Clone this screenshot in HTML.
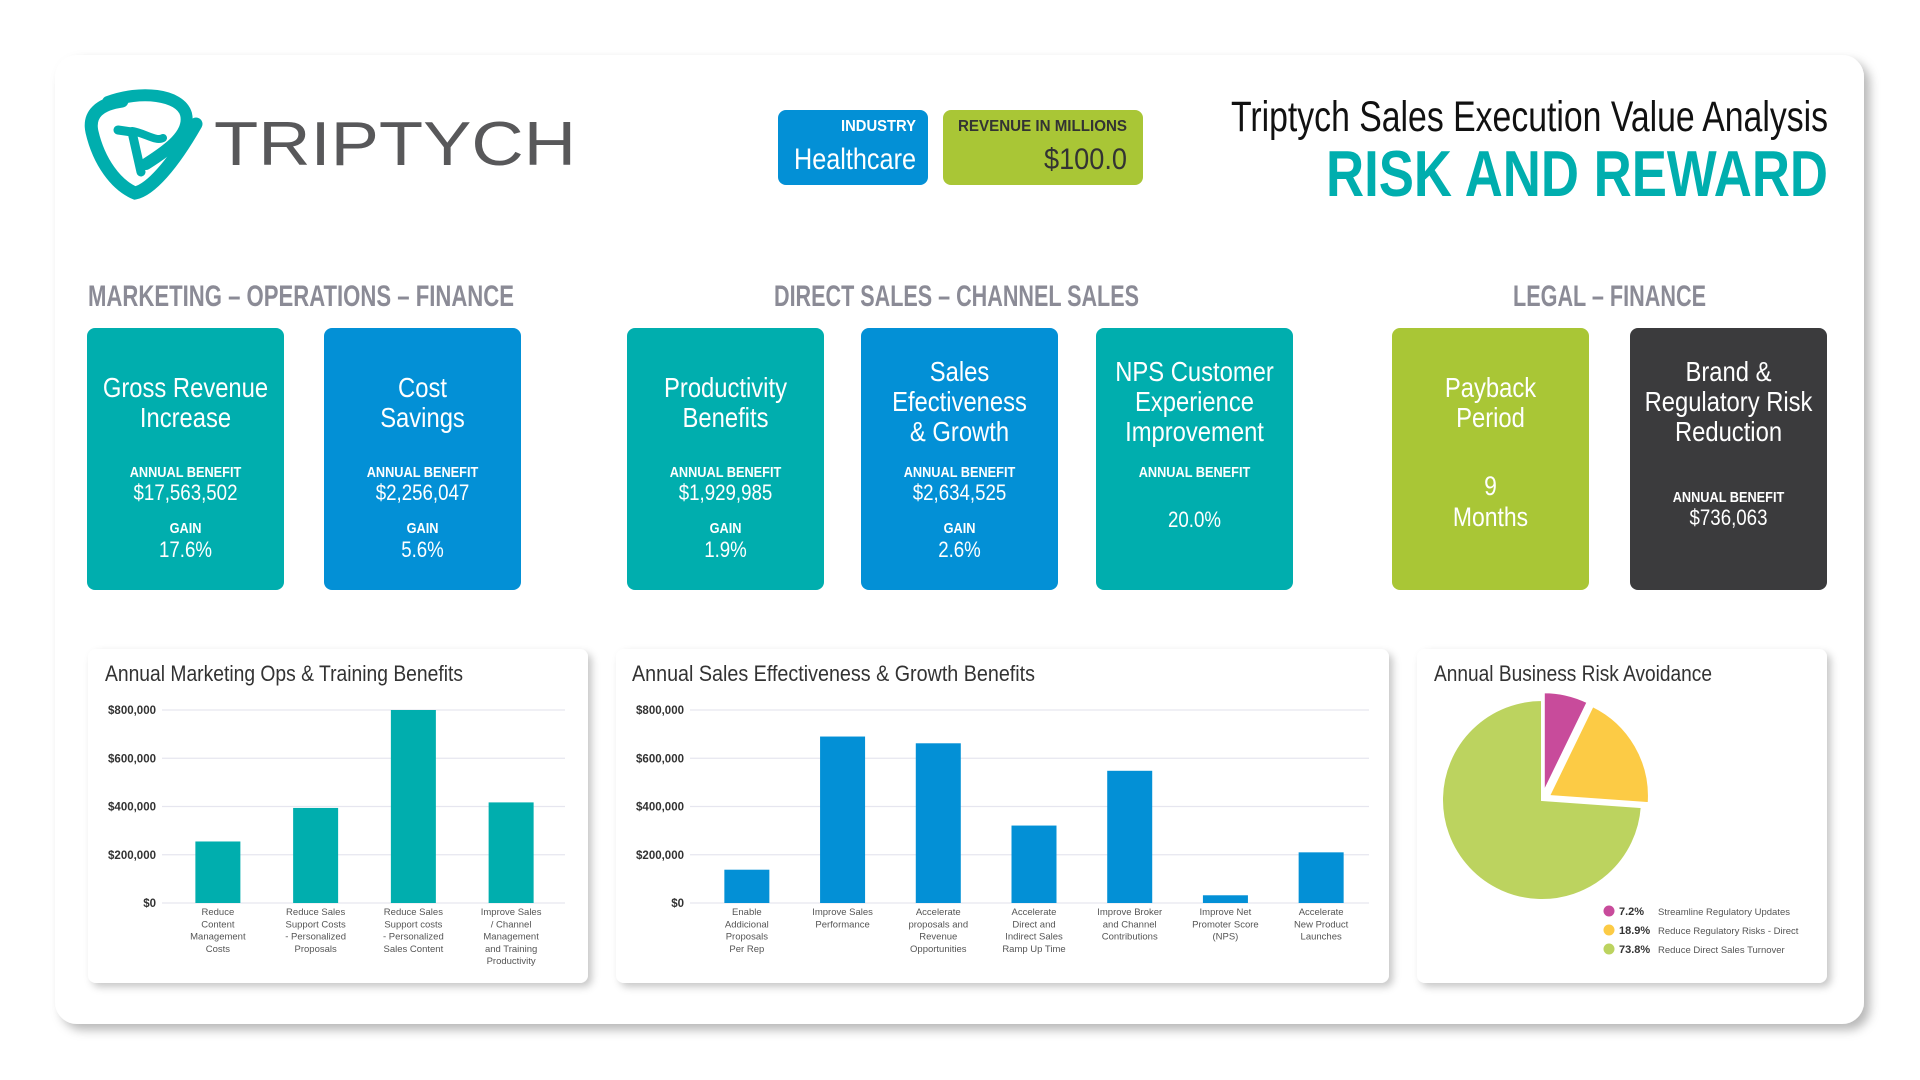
<!DOCTYPE html>
<html><head><meta charset="utf-8"><title>Triptych Risk and Reward</title>
<style>
html,body{margin:0;padding:0;background:#fff;}
body{width:1920px;height:1080px;overflow:hidden;font-family:"Liberation Sans",sans-serif;}
svg{display:block;}
</style></head>
<body>
<svg id="page" width="1920" height="1080" viewBox="0 0 1920 1080" xmlns="http://www.w3.org/2000/svg" font-family="Liberation Sans, sans-serif">
<defs>
<filter id="sh" x="-5%" y="-5%" width="112%" height="115%"><feDropShadow dx="6" dy="6" stdDeviation="5" flood-color="#000" flood-opacity="0.28"/></filter>
<filter id="sh2" x="-5%" y="-5%" width="112%" height="115%"><feDropShadow dx="4" dy="4" stdDeviation="4" flood-color="#000" flood-opacity="0.22"/></filter>
</defs>
<rect x="55" y="55" width="1809" height="969" rx="22" fill="#fff" filter="url(#sh)"/>

<g>
<g fill="none" stroke="#00aeae" stroke-linecap="round">
<path d="M122 101 C100 104 88 114 92 132 C99 162 116 185 135 193 C150 190 172 166 196 124" stroke-width="13"/>
<path d="M108 102 C140 90 180 94 186 114 C191 134 168 150 146 164" stroke-width="12"/>
<path d="M118 130 L132 132 L141 172" stroke-width="9"/>
<path d="M132 131 C145 133 156 142 163 138" stroke-width="8"/>
</g>
<text x="214" y="165" font-size="62" fill="#58585a" textLength="362" lengthAdjust="spacingAndGlyphs" style="font-weight:400">TRIPTYCH</text>
</g>

<g>
<rect x="778" y="110" width="150" height="75" rx="8" fill="#0390d6"/>
<text x="916" y="131" text-anchor="end" font-size="16" font-weight="bold" fill="#fff" textLength="75" lengthAdjust="spacingAndGlyphs">INDUSTRY</text>
<text x="916" y="169" text-anchor="end" font-size="30" fill="#fff" textLength="122" lengthAdjust="spacingAndGlyphs">Healthcare</text>
</g>
<g>
<rect x="943" y="110" width="200" height="75" rx="8" fill="#a9c636"/>
<text x="1127" y="131" text-anchor="end" font-size="16" font-weight="bold" fill="#333" textLength="169" lengthAdjust="spacingAndGlyphs">REVENUE IN MILLIONS</text>
<text x="1127" y="169" text-anchor="end" font-size="30" fill="#333" textLength="83" lengthAdjust="spacingAndGlyphs">$100.0</text>
</g>

<text x="1231" y="131" font-size="43" fill="#111" textLength="597" lengthAdjust="spacingAndGlyphs">Triptych Sales Execution Value Analysis</text>
<text x="1326" y="196" font-size="65" font-weight="bold" fill="#00aeae" textLength="502" lengthAdjust="spacingAndGlyphs">RISK AND REWARD</text>

<g font-size="30" font-weight="bold" fill="#8b8b96">
<text x="88" y="306" textLength="426" lengthAdjust="spacingAndGlyphs">MARKETING – OPERATIONS – FINANCE</text>
<text x="774" y="306" textLength="365" lengthAdjust="spacingAndGlyphs">DIRECT SALES – CHANNEL SALES</text>
<text x="1513" y="306" textLength="193" lengthAdjust="spacingAndGlyphs">LEGAL – FINANCE</text>
</g>

<g id="kpis"></g>

<rect x="88" y="649" width="500" height="334" rx="8" fill="#fff" filter="url(#sh2)"/>
<rect x="616" y="649" width="773" height="334" rx="8" fill="#fff" filter="url(#sh2)"/>
<rect x="1417" y="649" width="410" height="334" rx="8" fill="#fff" filter="url(#sh2)"/>

<text x="105" y="681" font-size="22" fill="#333" textLength="358" lengthAdjust="spacingAndGlyphs">Annual Marketing Ops &amp; Training Benefits</text>
<text x="632" y="681" font-size="22" fill="#333" textLength="403" lengthAdjust="spacingAndGlyphs">Annual Sales Effectiveness &amp; Growth Benefits</text>
<text x="1434" y="681" font-size="22" fill="#333" textLength="278" lengthAdjust="spacingAndGlyphs">Annual Business Risk Avoidance</text>

<g id="chart1"></g>
<g id="chart2"></g>
<g id="chart3"></g>
</svg>

<script>
const NS = 'http://www.w3.org/2000/svg';
// ---- chart data ----
const yTicks = [0, 200000, 400000, 600000, 800000];
const yTickLabels = ['$0', '$200,000', '$400,000', '$600,000', '$800,000'];
const mktCategories = [['Reduce','Content','Management','Costs'],['Reduce Sales','Support Costs','- Personalized','Proposals'],['Reduce Sales','Support costs','- Personalized','Sales Content'],['Improve Sales','/ Channel','Management','and Training','Productivity']];
const mktValues = [255000, 394000, 800000, 417000];
const salesCategories = [['Enable','Addicional','Proposals','Per Rep'],['Improve Sales','Performance'],['Accelerate','proposals and','Revenue','Opportunities'],['Accelerate','Direct and','Indirect Sales','Ramp Up Time'],['Improve Broker','and Channel','Contributions'],['Improve Net','Promoter Score','(NPS)'],['Accelerate','New Product','Launches']];
const salesValues = [138000, 690000, 662000, 321000, 548000, 32000, 210000];
const pieLabels = ['Streamline Regulatory Updates', 'Reduce Regulatory Risks - Direct', 'Reduce Direct Sales Turnover'];
const piePctLabels = ['7.2%', '18.9%', '73.8%'];
const pieValues = [7.2, 18.9, 73.8];
const pieColors = ['#c84b9b', '#fccb45', '#bcd35f'];

function mk(tag, attrs, parent, text){
  const el = document.createElementNS(NS, tag);
  for (const k in attrs) el.setAttribute(k, attrs[k]);
  if (text !== undefined) el.textContent = text;
  parent.appendChild(el);
  return el;
}

function barChart(g, cats, vals, cfg){
  const yScale = v => cfg.y0 - (v / 800000) * (cfg.y0 - cfg.y1);
  const band = (cfg.bx1 - cfg.bx0) / cats.length;
  const xCenter = i => cfg.bx0 + band * (i + 0.5);
  yTicks.forEach((t, i) => {
    const gl = mk('line', {x1: cfg.gx0, x2: cfg.gx1, y1: yScale(t), y2: yScale(t), stroke: '#e6e6ef', 'stroke-width': 1.2}, g);
    
    
    const tl = mk('text', {x: cfg.lx, y: yScale(t) + 4, 'text-anchor': 'end', 'font-size': 11.5, 'font-weight': 'bold', fill: '#333'}, g, yTickLabels[i]);
    
    
  });
  vals.forEach((v, i) => {
    const b = mk('rect', {x: xCenter(i) - cfg.bw / 2, y: yScale(v), width: cfg.bw, height: yScale(0) - yScale(v), fill: cfg.color}, g);
    
    
    const t = mk('text', {x: xCenter(i), y: cfg.y0 + 12, 'text-anchor': 'middle', 'font-size': 9.5, fill: '#555'}, g);
    
    
    cats[i].forEach((line, j) => {
      mk('tspan', {x: xCenter(i), dy: j === 0 ? 0 : 12.3}, t, line);
    });
  });
}

barChart(document.getElementById('chart1'), mktCategories, mktValues,
  {y0: 903, y1: 710, gx0: 162, gx1: 565, lx: 156, bx0: 169, bx1: 560, bw: 45, color: '#00aeae'});
barChart(document.getElementById('chart2'), salesCategories, salesValues,
  {y0: 903, y1: 710, gx0: 690, gx1: 1369, lx: 684, bx0: 699, bx1: 1369, bw: 45, color: '#0390d6'});

// pie
(function(){
  const g = document.getElementById('chart3');
  const cx = 1542, cy = 800, r = 100;
  const total = pieValues.reduce((a, b) => a + b, 0);
  let a0 = 0;
  pieValues.forEach((v, i) => {
    const a1 = a0 + v / total * Math.PI * 2;
    const mid = (a0 + a1) / 2;
    const off = i < 2 ? 8 : 0;
    const ox = cx + Math.sin(mid) * off, oy = cy - Math.cos(mid) * off;
    const x0 = ox + Math.sin(a0) * r, y0 = oy - Math.cos(a0) * r;
    const x1 = ox + Math.sin(a1) * r, y1 = oy - Math.cos(a1) * r;
    const large = (a1 - a0) > Math.PI ? 1 : 0;
    const p = mk('path', {d: `M${ox},${oy} L${x0},${y0} A${r},${r} 0 ${large} 1 ${x1},${y1} Z`, fill: pieColors[i], stroke: '#fff', 'stroke-width': 2}, g);
    
    
    a0 = a1;
    const ly = 911 + i * 19;
    const d = mk('circle', {cx: 1609, cy: ly, r: 5.5, fill: pieColors[i]}, g);
    
    
    const pt = mk('text', {x: 1619, y: ly + 4, 'font-size': 11, 'font-weight': 'bold', fill: '#333'}, g, piePctLabels[i]);
    
    
    const lt = mk('text', {x: 1658, y: ly + 4, 'font-size': 9.5, fill: '#555'}, g, pieLabels[i]);
    
    
  });
})();

// KPI cards
const cards = [
  {x:87, c:'#00aeae', name:'gross-revenue-card', title:['Gross Revenue','Increase'], rows:[['ANNUAL BENEFIT','$17,563,502'],['GAIN','17.6%']]},
  {x:324, c:'#0390d6', name:'cost-savings-card', title:['Cost','Savings'], rows:[['ANNUAL BENEFIT','$2,256,047'],['GAIN','5.6%']]},
  {x:627, c:'#00aeae', name:'productivity-card', title:['Productivity','Benefits'], rows:[['ANNUAL BENEFIT','$1,929,985'],['GAIN','1.9%']]},
  {x:861, c:'#0390d6', name:'sales-effectiveness-card', title:['Sales','Efectiveness','& Growth'], rows:[['ANNUAL BENEFIT','$2,634,525'],['GAIN','2.6%']]},
  {x:1096, c:'#00aeae', name:'nps-card', title:['NPS Customer','Experience','Improvement'], nps:true},
  {x:1392, c:'#a9c636', name:'payback-card', title:['Payback','Period'], payback:true},
  {x:1630, c:'#3b3b3d', name:'brand-risk-card', title:['Brand &','Regulatory Risk','Reduction'], brand:true}
];
(function(){
  const g = document.getElementById('kpis');
  cards.forEach(cd => {
    const cg = mk('g', {}, g);
    
    
    mk('rect', {x: cd.x, y: 328, width: 197, height: 262, rx: 8, fill: cd.c}, cg);
    const cx = cd.x + 98.5;
    const t = (y, s, size, bold) => {
      const e = mk('text', {x: 0, y: 0, transform: `translate(${cx},${y}) scale(0.85,1)`, 'text-anchor': 'middle', 'font-size': size, fill: '#fff', 'font-weight': bold ? 'bold' : 'normal'}, cg, s);
      return e;
    };
    const base = cd.title.length === 3 ? 381 : 397;
    cd.title.forEach((l, i) => t(base + i * 30, l, 28, false));
    if (cd.rows) {
      t(477, cd.rows[0][0], 15, true);
      t(500, cd.rows[0][1], 22, false);
      t(533, cd.rows[1][0], 15, true);
      t(557, cd.rows[1][1], 22, false);
    } else if (cd.nps) {
      t(477, 'ANNUAL BENEFIT', 15, true);
      t(527, '20.0%', 22, false);
    } else if (cd.payback) {
      t(495, '9', 27, false);
      t(526, 'Months', 27, false);
    } else if (cd.brand) {
      t(502, 'ANNUAL BENEFIT', 15, true);
      t(525, '$736,063', 22, false);
    }
  });
})();
</script>
</body></html>
